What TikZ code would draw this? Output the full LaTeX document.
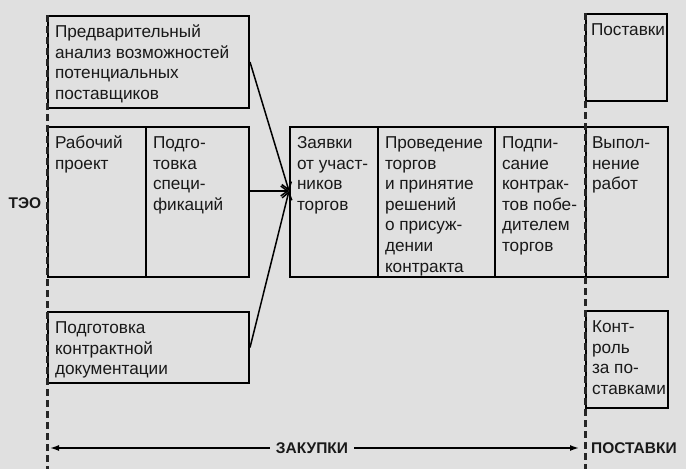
\documentclass[tikz,border=0pt]{standalone}
\usepackage{fontspec}
\setmainfont{Liberation Sans}
\usetikzlibrary{arrows.meta}

\newcommand{\celltext}[3]{\parbox[c][\dimexpr#2pt-14pt\relax][t]{\dimexpr#1pt-14pt\relax}{\raggedright\strut#3}}

\begin{document}
\begin{tikzpicture}[x=1pt, y=-1pt,
    cell/.style={draw, line width=2pt, anchor=north west, inner xsep=7pt, inner ysep=7pt, text=black!90,
      font=\fontsize{17.2}{20.6}\selectfont},
    phase/.style={draw=black!85, line width=3pt, dash pattern=on 7pt off 4pt},
    feed/.style={->, line width=1.5pt},
    span/.style={-{Latex[length=9pt,width=6pt]}, line width=1.5pt},
    tag/.style={font=\fontsize{15.5}{17}\selectfont\bfseries, text=black!90, inner sep=2pt},
    >={Straight Barb[length=7pt,width=10pt]}]

    \fill[black!12] (0,0) rectangle (686,469);
    \useasboundingbox (0,0) rectangle (686,469);

    \coordinate (teoTop) at (47,15);
    \coordinate (teoBot) at (47,469);
    \coordinate (postTop) at (585,13);
    \coordinate (postBot) at (585,469);
    \coordinate (tip) at (289,191);
    \coordinate (zakL) at (50,448);
    \coordinate (zakR) at (579,448);

    \node[cell] (pred) at (47,15) {\celltext{201}{92}{Предварительный\\анализ возможностей\\потенциальных\\поставщиков}};
    \node[cell] (rab) at (47,126) {\celltext{98}{150}{Рабочий\\проект}};
    \node[cell] (spec) at (145,126) {\celltext{103}{150}{Подго-\\товка\\специ-\\фикаций}};
    \node[cell] (dok) at (47,311) {\celltext{201}{71}{Подготовка\\контрактной\\документации}};

    \node[cell] (zay) at (289,126) {\celltext{88}{150}{Заявки\\от участ-\\ников\\торгов}};
    \node[cell] (torg) at (377,126) {\celltext{117}{150}{Проведение\\торгов\\и принятие\\решений\\о присуж-\\дении\\контракта}};
    \node[cell] (podp) at (494,126) {\celltext{91}{150}{Подпи-\\сание\\контрак-\\тов побе-\\дителем\\торгов}};
    \node[cell, inner xsep=6pt] (vyp) at (585,126) {\celltext{84}{150}{Выпол-\\нение\\работ}};

    \node[cell, inner xsep=5pt] (post) at (585,13) {\celltext{85}{87}{Поставки}};
    \node[cell, inner xsep=6pt] (kontr) at (585,310) {\celltext{84}{97}{Конт-\\роль\\за по-\\ставками}};

    \draw[phase] (teoTop) -- (teoBot);
    \draw[phase] (postTop) -- (postBot);

    \draw[feed] (pred.east) -- (tip);
    \draw[feed] (spec.east |- tip) -- (tip);
    \draw[feed] (dok.east) -- (tip);

    \node[tag] (teo) at (25,203) {ТЭО};
    \node[tag, inner xsep=6pt] (zak) at (312,448) {ЗАКУПКИ};
    \node[tag, anchor=west] (postav) at (589,448) {ПОСТАВКИ};

    \draw[span] (zak.west) -- (zakL);
    \draw[span] (zak.east) -- (zakR);

\end{tikzpicture}
\end{document}
